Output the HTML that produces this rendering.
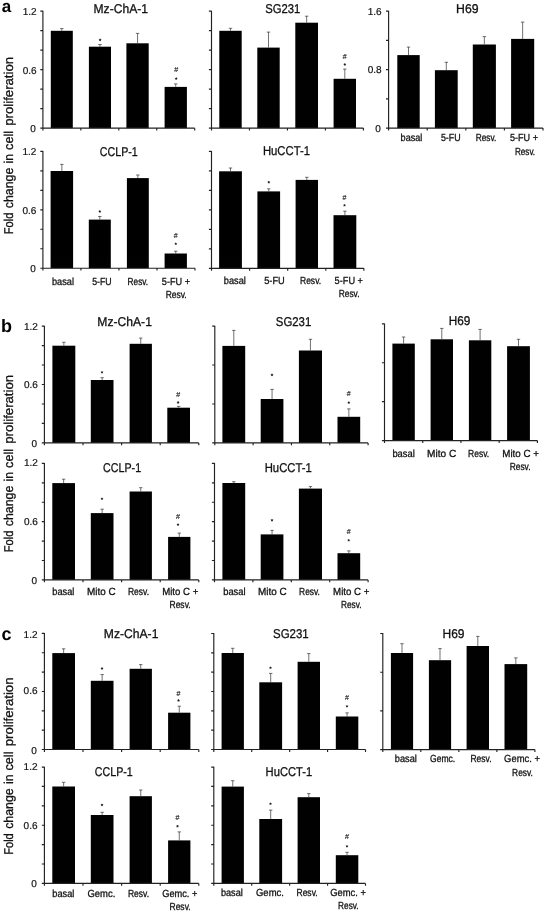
<!DOCTYPE html>
<html><head><meta charset="utf-8"><title>Fold change in cell proliferation</title>
<style>
html,body{margin:0;padding:0;background:#fff;}
body{width:546px;height:913px;overflow:hidden;font-family:"Liberation Sans",sans-serif;}
svg{display:block;font-family:"Liberation Sans",sans-serif;will-change:transform;opacity:0.999;text-rendering:geometricPrecision;}
</style></head><body>
<svg width="546" height="913" viewBox="0 0 546 913">
<rect width="546" height="913" fill="#fff"/>
<rect x="50.80" y="30.80" width="22.00" height="97.35" fill="#000"/>
<path d="M61.80 30.80V28.60M60.10 28.60H63.50" stroke="#333" stroke-width="0.7" fill="none"/>
<rect x="88.90" y="46.70" width="22.10" height="81.45" fill="#000"/>
<path d="M99.95 46.70V44.50M98.25 44.50H101.65" stroke="#333" stroke-width="0.7" fill="none"/>
<rect x="126.40" y="43.30" width="22.30" height="84.85" fill="#000"/>
<path d="M137.55 43.30V33.40M135.85 33.40H139.25" stroke="#333" stroke-width="0.7" fill="none"/>
<rect x="164.60" y="86.90" width="22.30" height="41.25" fill="#000"/>
<path d="M175.75 86.90V83.90M174.05 83.90H177.45" stroke="#333" stroke-width="0.7" fill="none"/>
<path d="M42.90 10.70V128.15M40.30 128.15H194.70M40.30 11.10H42.90M40.30 30.61H42.90M40.30 50.12H42.90M40.30 69.62H42.90M40.30 89.13H42.90M40.30 108.64H42.90M40.30 128.15H42.90M42.90 128.15V130.55M80.85 128.15V130.55M118.80 128.15V130.55M156.75 128.15V130.55M194.70 128.15V130.55" stroke="#222" stroke-width="1.15" fill="none"/>
<text transform="translate(93.50,13.20) scale(0.9462,1)" font-size="12.8" fill="#111" stroke="#111" stroke-width="0.3">Mz-ChA-1</text>
<polygon points="100.10,38.35 100.57,39.25 101.57,39.42 100.86,40.15 101.01,41.15 100.10,40.70 99.19,41.15 99.34,40.15 98.63,39.42 99.63,39.25" fill="#1a1a1a"/>
<text transform="translate(176.20,72.19) scale(0.9739,1)" font-size="7.2" text-anchor="middle" fill="#222" stroke="#222" stroke-width="0.15">#</text>
<polygon points="176.20,77.05 176.67,77.95 177.67,78.12 176.96,78.85 177.11,79.85 176.20,79.40 175.29,79.85 175.44,78.85 174.73,78.12 175.73,77.95" fill="#1a1a1a"/>
<text transform="translate(36.60,14.80) scale(1.0000,1)" font-size="10.0" text-anchor="end" fill="#111" stroke="#111" stroke-width="0.2">1.2</text>
<text transform="translate(36.60,73.90) scale(1.0000,1)" font-size="10.0" text-anchor="end" fill="#111" stroke="#111" stroke-width="0.2">0.6</text>
<text transform="translate(35.90,131.90) scale(1.0000,1)" font-size="10.0" text-anchor="end" fill="#111" stroke="#111" stroke-width="0.2">0</text>
<rect x="219.30" y="30.80" width="22.40" height="97.30" fill="#000"/>
<path d="M230.50 30.80V28.30M228.80 28.30H232.20" stroke="#333" stroke-width="0.7" fill="none"/>
<rect x="257.30" y="47.60" width="22.40" height="80.50" fill="#000"/>
<path d="M268.50 47.60V32.10M266.80 32.10H270.20" stroke="#333" stroke-width="0.7" fill="none"/>
<rect x="295.30" y="22.70" width="22.70" height="105.40" fill="#000"/>
<path d="M306.65 22.70V16.20M304.95 16.20H308.35" stroke="#333" stroke-width="0.7" fill="none"/>
<rect x="333.60" y="78.80" width="22.40" height="49.30" fill="#000"/>
<path d="M344.80 78.80V69.10M343.10 69.10H346.50" stroke="#333" stroke-width="0.7" fill="none"/>
<path d="M211.50 10.70V128.10M208.90 128.10H363.40M208.90 11.10H211.50M208.90 30.60H211.50M208.90 50.10H211.50M208.90 69.60H211.50M208.90 89.10H211.50M208.90 108.60H211.50M208.90 128.10H211.50M211.50 128.10V130.50M249.47 128.10V130.50M287.45 128.10V130.50M325.42 128.10V130.50M363.40 128.10V130.50" stroke="#222" stroke-width="1.15" fill="none"/>
<text transform="translate(265.30,13.20) scale(0.8803,1)" font-size="12.8" fill="#111" stroke="#111" stroke-width="0.3">SG231</text>
<text transform="translate(344.80,58.59) scale(0.9739,1)" font-size="7.2" text-anchor="middle" fill="#222" stroke="#222" stroke-width="0.15">#</text>
<polygon points="344.80,62.95 345.27,63.85 346.27,64.02 345.56,64.75 345.71,65.75 344.80,65.30 343.89,65.75 344.04,64.75 343.33,64.02 344.33,63.85" fill="#1a1a1a"/>
<rect x="397.30" y="55.10" width="22.40" height="73.00" fill="#000"/>
<path d="M408.50 55.10V47.10M406.80 47.10H410.20" stroke="#333" stroke-width="0.7" fill="none"/>
<rect x="434.90" y="70.20" width="22.80" height="57.90" fill="#000"/>
<path d="M446.30 70.20V62.30M444.60 62.30H448.00" stroke="#333" stroke-width="0.7" fill="none"/>
<rect x="472.80" y="44.50" width="23.10" height="83.60" fill="#000"/>
<path d="M484.35 44.50V36.60M482.65 36.60H486.05" stroke="#333" stroke-width="0.7" fill="none"/>
<rect x="511.10" y="38.90" width="23.10" height="89.20" fill="#000"/>
<path d="M522.65 38.90V22.10M520.95 22.10H524.35" stroke="#333" stroke-width="0.7" fill="none"/>
<path d="M388.60 10.70V128.10M386.00 128.10H543.00M386.00 11.10H388.60M386.00 40.35H388.60M386.00 69.60H388.60M386.00 98.85H388.60M386.00 128.10H388.60M388.60 128.10V130.50M427.20 128.10V130.50M465.80 128.10V130.50M504.40 128.10V130.50M543.00 128.10V130.50" stroke="#222" stroke-width="1.15" fill="none"/>
<text transform="translate(456.10,13.40) scale(0.9579,1)" font-size="12.8" fill="#111" stroke="#111" stroke-width="0.3">H69</text>
<text transform="translate(381.60,14.60) scale(1.0000,1)" font-size="10.0" text-anchor="end" fill="#111" stroke="#111" stroke-width="0.2">1.6</text>
<text transform="translate(381.60,73.10) scale(1.0000,1)" font-size="10.0" text-anchor="end" fill="#111" stroke="#111" stroke-width="0.2">0.8</text>
<text transform="translate(380.90,131.60) scale(1.0000,1)" font-size="10.0" text-anchor="end" fill="#111" stroke="#111" stroke-width="0.2">0</text>
<text transform="translate(400.60,141.40) scale(0.8815,1)" font-size="10.3" fill="#111" stroke="#111" stroke-width="0.3">basal</text>
<text transform="translate(440.90,141.40) scale(0.8615,1)" font-size="10.3" fill="#111" stroke="#111" stroke-width="0.3">5-FU</text>
<text transform="translate(475.70,141.40) scale(0.8065,1)" font-size="10.3" fill="#111" stroke="#111" stroke-width="0.3">Resv.</text>
<text transform="translate(510.00,141.40) scale(0.8812,1)" font-size="10.3" fill="#111" stroke="#111" stroke-width="0.3">5-FU +</text>
<text transform="translate(514.90,154.60) scale(0.7908,1)" font-size="10.3" fill="#111" stroke="#111" stroke-width="0.3">Resv.</text>
<rect x="50.60" y="171.00" width="22.50" height="97.20" fill="#000"/>
<path d="M61.85 171.00V164.40M60.15 164.40H63.55" stroke="#333" stroke-width="0.7" fill="none"/>
<rect x="88.80" y="219.60" width="22.00" height="48.60" fill="#000"/>
<path d="M99.80 219.60V216.50M98.10 216.50H101.50" stroke="#333" stroke-width="0.7" fill="none"/>
<rect x="126.90" y="178.10" width="21.90" height="90.10" fill="#000"/>
<path d="M137.85 178.10V175.00M136.15 175.00H139.55" stroke="#333" stroke-width="0.7" fill="none"/>
<rect x="164.60" y="253.50" width="22.30" height="14.70" fill="#000"/>
<path d="M175.75 253.50V251.20M174.05 251.20H177.45" stroke="#333" stroke-width="0.7" fill="none"/>
<path d="M42.90 151.00V268.20M40.30 268.20H195.00M40.30 151.40H42.90M40.30 170.87H42.90M40.30 190.33H42.90M40.30 209.80H42.90M40.30 229.27H42.90M40.30 248.73H42.90M40.30 268.20H42.90M42.90 268.20V270.60M80.92 268.20V270.60M118.95 268.20V270.60M156.97 268.20V270.60M195.00 268.20V270.60" stroke="#222" stroke-width="1.15" fill="none"/>
<text transform="translate(99.70,155.90) scale(0.8373,1)" font-size="12.8" fill="#111" stroke="#111" stroke-width="0.3">CCLP-1</text>
<polygon points="99.80,209.95 100.27,210.85 101.27,211.02 100.56,211.75 100.71,212.75 99.80,212.30 98.89,212.75 99.04,211.75 98.33,211.02 99.33,210.85" fill="#1a1a1a"/>
<text transform="translate(175.80,237.59) scale(0.9739,1)" font-size="7.2" text-anchor="middle" fill="#222" stroke="#222" stroke-width="0.15">#</text>
<polygon points="175.80,242.25 176.27,243.15 177.27,243.32 176.56,244.05 176.71,245.05 175.80,244.60 174.89,245.05 175.04,244.05 174.33,243.32 175.33,243.15" fill="#1a1a1a"/>
<text transform="translate(36.40,154.80) scale(1.0000,1)" font-size="10.0" text-anchor="end" fill="#111" stroke="#111" stroke-width="0.2">1.2</text>
<text transform="translate(36.40,214.20) scale(1.0000,1)" font-size="10.0" text-anchor="end" fill="#111" stroke="#111" stroke-width="0.2">0.6</text>
<text transform="translate(35.70,271.90) scale(1.0000,1)" font-size="10.0" text-anchor="end" fill="#111" stroke="#111" stroke-width="0.2">0</text>
<text transform="translate(52.00,284.50) scale(0.8937,1)" font-size="10.3" fill="#111" stroke="#111" stroke-width="0.3">basal</text>
<text transform="translate(92.20,284.50) scale(0.8528,1)" font-size="10.3" fill="#111" stroke="#111" stroke-width="0.3">5-FU</text>
<text transform="translate(127.60,284.50) scale(0.8025,1)" font-size="10.3" fill="#111" stroke="#111" stroke-width="0.3">Resv.</text>
<text transform="translate(161.80,284.70) scale(0.8875,1)" font-size="10.3" fill="#111" stroke="#111" stroke-width="0.3">5-FU +</text>
<text transform="translate(165.70,298.20) scale(0.8221,1)" font-size="10.3" fill="#111" stroke="#111" stroke-width="0.3">Resv.</text>
<rect x="219.10" y="171.30" width="22.80" height="97.00" fill="#000"/>
<path d="M230.50 171.30V168.00M228.80 168.00H232.20" stroke="#333" stroke-width="0.7" fill="none"/>
<rect x="257.40" y="191.40" width="22.70" height="76.90" fill="#000"/>
<path d="M268.75 191.40V188.80M267.05 188.80H270.45" stroke="#333" stroke-width="0.7" fill="none"/>
<rect x="295.60" y="179.90" width="22.40" height="88.40" fill="#000"/>
<path d="M306.80 179.90V177.30M305.10 177.30H308.50" stroke="#333" stroke-width="0.7" fill="none"/>
<rect x="333.50" y="215.20" width="22.80" height="53.10" fill="#000"/>
<path d="M344.90 215.20V211.20M343.20 211.20H346.60" stroke="#333" stroke-width="0.7" fill="none"/>
<path d="M211.50 151.00V268.30M208.90 268.30H363.90M208.90 151.40H211.50M208.90 170.88H211.50M208.90 190.37H211.50M208.90 209.85H211.50M208.90 229.33H211.50M208.90 248.82H211.50M208.90 268.30H211.50M211.50 268.30V270.70M249.60 268.30V270.70M287.70 268.30V270.70M325.80 268.30V270.70M363.90 268.30V270.70" stroke="#222" stroke-width="1.15" fill="none"/>
<text transform="translate(262.90,155.20) scale(0.8824,1)" font-size="12.8" fill="#111" stroke="#111" stroke-width="0.3">HuCCT-1</text>
<polygon points="268.80,180.65 269.27,181.55 270.27,181.72 269.56,182.45 269.71,183.45 268.80,183.00 267.89,183.45 268.04,182.45 267.33,181.72 268.33,181.55" fill="#1a1a1a"/>
<text transform="translate(344.50,199.59) scale(0.9739,1)" font-size="7.2" text-anchor="middle" fill="#222" stroke="#222" stroke-width="0.15">#</text>
<polygon points="344.50,203.75 344.97,204.65 345.97,204.82 345.26,205.55 345.41,206.55 344.50,206.10 343.59,206.55 343.74,205.55 343.03,204.82 344.03,204.65" fill="#1a1a1a"/>
<text transform="translate(223.80,283.80) scale(0.8937,1)" font-size="10.3" fill="#111" stroke="#111" stroke-width="0.3">basal</text>
<text transform="translate(264.20,283.80) scale(0.8965,1)" font-size="10.3" fill="#111" stroke="#111" stroke-width="0.3">5-FU</text>
<text transform="translate(300.00,283.80) scale(0.8260,1)" font-size="10.3" fill="#111" stroke="#111" stroke-width="0.3">Resv.</text>
<text transform="translate(334.60,283.80) scale(0.8938,1)" font-size="10.3" fill="#111" stroke="#111" stroke-width="0.3">5-FU +</text>
<text transform="translate(338.70,297.00) scale(0.8143,1)" font-size="10.3" fill="#111" stroke="#111" stroke-width="0.3">Resv.</text>
<rect x="52.40" y="345.70" width="22.90" height="97.20" fill="#000"/>
<path d="M63.85 345.70V342.30M62.15 342.30H65.55" stroke="#333" stroke-width="0.7" fill="none"/>
<rect x="90.80" y="380.00" width="22.70" height="62.90" fill="#000"/>
<path d="M102.15 380.00V377.70M100.45 377.70H103.85" stroke="#333" stroke-width="0.7" fill="none"/>
<rect x="129.60" y="343.80" width="22.30" height="99.10" fill="#000"/>
<path d="M140.75 343.80V338.10M139.05 338.10H142.45" stroke="#333" stroke-width="0.7" fill="none"/>
<rect x="167.30" y="407.70" width="22.70" height="35.20" fill="#000"/>
<path d="M178.65 407.70V406.40M176.95 406.40H180.35" stroke="#333" stroke-width="0.7" fill="none"/>
<path d="M44.40 325.70V442.90M41.80 442.90H198.80M41.80 326.10H44.40M41.80 345.57H44.40M41.80 365.03H44.40M41.80 384.50H44.40M41.80 403.97H44.40M41.80 423.43H44.40M41.80 442.90H44.40M44.40 442.90V445.30M83.00 442.90V445.30M121.60 442.90V445.30M160.20 442.90V445.30M198.80 442.90V445.30" stroke="#222" stroke-width="1.15" fill="none"/>
<text transform="translate(97.30,325.60) scale(0.9479,1)" font-size="12.8" fill="#111" stroke="#111" stroke-width="0.3">Mz-ChA-1</text>
<polygon points="102.00,370.75 102.47,371.65 103.47,371.82 102.76,372.55 102.91,373.55 102.00,373.10 101.09,373.55 101.24,372.55 100.53,371.82 101.53,371.65" fill="#1a1a1a"/>
<text transform="translate(178.10,397.29) scale(0.9739,1)" font-size="7.2" text-anchor="middle" fill="#222" stroke="#222" stroke-width="0.15">#</text>
<polygon points="178.10,400.85 178.57,401.75 179.57,401.92 178.86,402.65 179.01,403.65 178.10,403.20 177.19,403.65 177.34,402.65 176.63,401.92 177.63,401.75" fill="#1a1a1a"/>
<text transform="translate(37.80,330.10) scale(1.0000,1)" font-size="10.0" text-anchor="end" fill="#111" stroke="#111" stroke-width="0.2">1.2</text>
<text transform="translate(37.80,387.50) scale(1.0000,1)" font-size="10.0" text-anchor="end" fill="#111" stroke="#111" stroke-width="0.2">0.6</text>
<text transform="translate(37.10,446.90) scale(1.0000,1)" font-size="10.0" text-anchor="end" fill="#111" stroke="#111" stroke-width="0.2">0</text>
<rect x="222.40" y="345.90" width="22.80" height="97.00" fill="#000"/>
<path d="M233.80 345.90V330.40M232.10 330.40H235.50" stroke="#333" stroke-width="0.7" fill="none"/>
<rect x="260.70" y="399.00" width="22.70" height="43.90" fill="#000"/>
<path d="M272.05 399.00V389.40M270.35 389.40H273.75" stroke="#333" stroke-width="0.7" fill="none"/>
<rect x="298.90" y="350.50" width="23.10" height="92.40" fill="#000"/>
<path d="M310.45 350.50V339.30M308.75 339.30H312.15" stroke="#333" stroke-width="0.7" fill="none"/>
<rect x="337.50" y="416.80" width="22.70" height="26.10" fill="#000"/>
<path d="M348.85 416.80V408.90M347.15 408.90H350.55" stroke="#333" stroke-width="0.7" fill="none"/>
<path d="M214.80 325.70V442.90M212.20 442.90H368.10M212.20 326.10H214.80M212.20 365.03H214.80M212.20 403.97H214.80M212.20 442.90H214.80M214.80 442.90V445.30M253.12 442.90V445.30M291.45 442.90V445.30M329.78 442.90V445.30M368.10 442.90V445.30" stroke="#222" stroke-width="1.15" fill="none"/>
<text transform="translate(275.80,325.60) scale(0.8903,1)" font-size="12.8" fill="#111" stroke="#111" stroke-width="0.3">SG231</text>
<polygon points="272.00,373.35 272.47,374.25 273.47,374.42 272.76,375.15 272.91,376.15 272.00,375.70 271.09,376.15 271.24,375.15 270.53,374.42 271.53,374.25" fill="#1a1a1a"/>
<text transform="translate(348.80,396.29) scale(0.9739,1)" font-size="7.2" text-anchor="middle" fill="#222" stroke="#222" stroke-width="0.15">#</text>
<polygon points="348.80,401.05 349.27,401.95 350.27,402.12 349.56,402.85 349.71,403.85 348.80,403.40 347.89,403.85 348.04,402.85 347.33,402.12 348.33,401.95" fill="#1a1a1a"/>
<rect x="392.40" y="343.60" width="22.40" height="97.00" fill="#000"/>
<path d="M403.60 343.60V337.00M401.90 337.00H405.30" stroke="#333" stroke-width="0.7" fill="none"/>
<rect x="430.60" y="339.30" width="22.40" height="101.30" fill="#000"/>
<path d="M441.80 339.30V328.40M440.10 328.40H443.50" stroke="#333" stroke-width="0.7" fill="none"/>
<rect x="468.90" y="340.30" width="22.40" height="100.30" fill="#000"/>
<path d="M480.10 340.30V329.40M478.40 329.40H481.80" stroke="#333" stroke-width="0.7" fill="none"/>
<rect x="507.10" y="346.20" width="22.80" height="94.40" fill="#000"/>
<path d="M518.50 346.20V339.30M516.80 339.30H520.20" stroke="#333" stroke-width="0.7" fill="none"/>
<path d="M384.50 323.40V440.60M381.90 440.60H537.40M381.90 323.80H384.50M381.90 362.73H384.50M381.90 401.67H384.50M381.90 440.60H384.50M384.50 440.60V443.00M422.73 440.60V443.00M460.95 440.60V443.00M499.17 440.60V443.00M537.40 440.60V443.00" stroke="#222" stroke-width="1.15" fill="none"/>
<text transform="translate(448.80,325.00) scale(0.9196,1)" font-size="12.8" fill="#111" stroke="#111" stroke-width="0.3">H69</text>
<text transform="translate(392.40,456.70) scale(0.9059,1)" font-size="10.3" fill="#111" stroke="#111" stroke-width="0.3">basal</text>
<text transform="translate(427.00,456.70) scale(0.9843,1)" font-size="10.3" fill="#111" stroke="#111" stroke-width="0.3">Mito C</text>
<text transform="translate(468.10,456.70) scale(0.8260,1)" font-size="10.3" fill="#111" stroke="#111" stroke-width="0.3">Resv.</text>
<text transform="translate(502.30,456.70) scale(0.9502,1)" font-size="10.3" fill="#111" stroke="#111" stroke-width="0.3">Mito C +</text>
<text transform="translate(509.70,469.80) scale(0.8143,1)" font-size="10.3" fill="#111" stroke="#111" stroke-width="0.3">Resv.</text>
<rect x="52.30" y="483.10" width="22.70" height="96.80" fill="#000"/>
<path d="M63.65 483.10V479.20M61.95 479.20H65.35" stroke="#333" stroke-width="0.7" fill="none"/>
<rect x="90.80" y="513.10" width="22.70" height="66.80" fill="#000"/>
<path d="M102.15 513.10V509.20M100.45 509.20H103.85" stroke="#333" stroke-width="0.7" fill="none"/>
<rect x="129.60" y="491.50" width="22.30" height="88.40" fill="#000"/>
<path d="M140.75 491.50V487.70M139.05 487.70H142.45" stroke="#333" stroke-width="0.7" fill="none"/>
<rect x="168.10" y="536.90" width="22.30" height="43.00" fill="#000"/>
<path d="M179.25 536.90V533.10M177.55 533.10H180.95" stroke="#333" stroke-width="0.7" fill="none"/>
<path d="M44.40 463.00V579.90M41.80 579.90H198.80M41.80 463.40H44.40M41.80 482.82H44.40M41.80 502.23H44.40M41.80 521.65H44.40M41.80 541.07H44.40M41.80 560.48H44.40M41.80 579.90H44.40M44.40 579.90V582.30M83.00 579.90V582.30M121.60 579.90V582.30M160.20 579.90V582.30M198.80 579.90V582.30" stroke="#222" stroke-width="1.15" fill="none"/>
<text transform="translate(103.00,471.80) scale(0.8373,1)" font-size="12.8" fill="#111" stroke="#111" stroke-width="0.3">CCLP-1</text>
<polygon points="102.00,497.25 102.47,498.15 103.47,498.32 102.76,499.05 102.91,500.05 102.00,499.60 101.09,500.05 101.24,499.05 100.53,498.32 101.53,498.15" fill="#1a1a1a"/>
<text transform="translate(178.00,518.79) scale(0.9739,1)" font-size="7.2" text-anchor="middle" fill="#222" stroke="#222" stroke-width="0.15">#</text>
<polygon points="178.00,523.05 178.47,523.95 179.47,524.12 178.76,524.85 178.91,525.85 178.00,525.40 177.09,525.85 177.24,524.85 176.53,524.12 177.53,523.95" fill="#1a1a1a"/>
<text transform="translate(37.80,466.30) scale(1.0000,1)" font-size="10.0" text-anchor="end" fill="#111" stroke="#111" stroke-width="0.2">1.2</text>
<text transform="translate(37.80,524.80) scale(1.0000,1)" font-size="10.0" text-anchor="end" fill="#111" stroke="#111" stroke-width="0.2">0.6</text>
<text transform="translate(37.10,583.60) scale(1.0000,1)" font-size="10.0" text-anchor="end" fill="#111" stroke="#111" stroke-width="0.2">0</text>
<text transform="translate(52.30,595.20) scale(0.8937,1)" font-size="10.3" fill="#111" stroke="#111" stroke-width="0.3">basal</text>
<text transform="translate(86.90,595.20) scale(0.9642,1)" font-size="10.3" fill="#111" stroke="#111" stroke-width="0.3">Mito C</text>
<text transform="translate(127.90,595.20) scale(0.8260,1)" font-size="10.3" fill="#111" stroke="#111" stroke-width="0.3">Resv.</text>
<text transform="translate(162.20,595.20) scale(0.9346,1)" font-size="10.3" fill="#111" stroke="#111" stroke-width="0.3">Mito C +</text>
<text transform="translate(169.50,607.80) scale(0.8260,1)" font-size="10.3" fill="#111" stroke="#111" stroke-width="0.3">Resv.</text>
<rect x="222.40" y="483.00" width="22.80" height="96.90" fill="#000"/>
<path d="M233.80 483.00V481.70M232.10 481.70H235.50" stroke="#333" stroke-width="0.7" fill="none"/>
<rect x="260.70" y="534.40" width="22.70" height="45.50" fill="#000"/>
<path d="M272.05 534.40V530.40M270.35 530.40H273.75" stroke="#333" stroke-width="0.7" fill="none"/>
<rect x="298.90" y="488.60" width="23.10" height="91.30" fill="#000"/>
<path d="M310.45 488.60V486.60M308.75 486.60H312.15" stroke="#333" stroke-width="0.7" fill="none"/>
<rect x="337.50" y="553.20" width="22.70" height="26.70" fill="#000"/>
<path d="M348.85 553.20V550.90M347.15 550.90H350.55" stroke="#333" stroke-width="0.7" fill="none"/>
<path d="M214.50 463.00V579.90M211.90 579.90H368.10M211.90 463.40H214.50M211.90 482.82H214.50M211.90 502.23H214.50M211.90 521.65H214.50M211.90 541.07H214.50M211.90 560.48H214.50M211.90 579.90H214.50M214.50 579.90V582.30M252.90 579.90V582.30M291.30 579.90V582.30M329.70 579.90V582.30M368.10 579.90V582.30" stroke="#222" stroke-width="1.15" fill="none"/>
<text transform="translate(264.70,471.80) scale(0.8824,1)" font-size="12.8" fill="#111" stroke="#111" stroke-width="0.3">HuCCT-1</text>
<polygon points="272.00,518.65 272.47,519.55 273.47,519.72 272.76,520.45 272.91,521.45 272.00,521.00 271.09,521.45 271.24,520.45 270.53,519.72 271.53,519.55" fill="#1a1a1a"/>
<text transform="translate(348.70,533.99) scale(0.9739,1)" font-size="7.2" text-anchor="middle" fill="#222" stroke="#222" stroke-width="0.15">#</text>
<polygon points="348.70,538.75 349.17,539.65 350.17,539.82 349.46,540.55 349.61,541.55 348.70,541.10 347.79,541.55 347.94,540.55 347.23,539.82 348.23,539.65" fill="#1a1a1a"/>
<text transform="translate(223.20,595.20) scale(0.9059,1)" font-size="10.3" fill="#111" stroke="#111" stroke-width="0.3">basal</text>
<text transform="translate(258.10,595.20) scale(0.9642,1)" font-size="10.3" fill="#111" stroke="#111" stroke-width="0.3">Mito C</text>
<text transform="translate(299.10,595.20) scale(0.8143,1)" font-size="10.3" fill="#111" stroke="#111" stroke-width="0.3">Resv.</text>
<text transform="translate(333.10,595.20) scale(0.9398,1)" font-size="10.3" fill="#111" stroke="#111" stroke-width="0.3">Mito C +</text>
<text transform="translate(341.00,607.80) scale(0.8025,1)" font-size="10.3" fill="#111" stroke="#111" stroke-width="0.3">Resv.</text>
<rect x="52.30" y="653.10" width="22.70" height="96.40" fill="#000"/>
<path d="M63.65 653.10V648.80M61.95 648.80H65.35" stroke="#333" stroke-width="0.7" fill="none"/>
<rect x="90.80" y="680.80" width="22.70" height="68.70" fill="#000"/>
<path d="M102.15 680.80V674.60M100.45 674.60H103.85" stroke="#333" stroke-width="0.7" fill="none"/>
<rect x="129.60" y="668.80" width="22.30" height="80.70" fill="#000"/>
<path d="M140.75 668.80V664.60M139.05 664.60H142.45" stroke="#333" stroke-width="0.7" fill="none"/>
<rect x="168.10" y="712.70" width="22.30" height="36.80" fill="#000"/>
<path d="M179.25 712.70V706.20M177.55 706.20H180.95" stroke="#333" stroke-width="0.7" fill="none"/>
<path d="M44.40 633.00V749.50M41.80 749.50H198.80M41.80 633.40H44.40M41.80 652.75H44.40M41.80 672.10H44.40M41.80 691.45H44.40M41.80 710.80H44.40M41.80 730.15H44.40M41.80 749.50H44.40M44.40 749.50V751.90M83.00 749.50V751.90M121.60 749.50V751.90M160.20 749.50V751.90M198.80 749.50V751.90" stroke="#222" stroke-width="1.15" fill="none"/>
<text transform="translate(103.80,637.80) scale(0.9479,1)" font-size="12.8" fill="#111" stroke="#111" stroke-width="0.3">Mz-ChA-1</text>
<polygon points="102.00,666.95 102.47,667.85 103.47,668.02 102.76,668.75 102.91,669.75 102.00,669.30 101.09,669.75 101.24,668.75 100.53,668.02 101.53,667.85" fill="#1a1a1a"/>
<text transform="translate(178.50,695.69) scale(0.9739,1)" font-size="7.2" text-anchor="middle" fill="#222" stroke="#222" stroke-width="0.15">#</text>
<polygon points="178.50,698.85 178.97,699.75 179.97,699.92 179.26,700.65 179.41,701.65 178.50,701.20 177.59,701.65 177.74,700.65 177.03,699.92 178.03,699.75" fill="#1a1a1a"/>
<text transform="translate(37.50,637.70) scale(1.0000,1)" font-size="10.0" text-anchor="end" fill="#111" stroke="#111" stroke-width="0.2">1.2</text>
<text transform="translate(37.50,694.10) scale(1.0000,1)" font-size="10.0" text-anchor="end" fill="#111" stroke="#111" stroke-width="0.2">0.6</text>
<text transform="translate(36.80,753.60) scale(1.0000,1)" font-size="10.0" text-anchor="end" fill="#111" stroke="#111" stroke-width="0.2">0</text>
<rect x="221.60" y="653.00" width="22.30" height="96.50" fill="#000"/>
<path d="M232.75 653.00V648.30M231.05 648.30H234.45" stroke="#333" stroke-width="0.7" fill="none"/>
<rect x="259.30" y="682.30" width="22.80" height="67.20" fill="#000"/>
<path d="M270.70 682.30V673.40M269.00 673.40H272.40" stroke="#333" stroke-width="0.7" fill="none"/>
<rect x="297.60" y="661.80" width="22.40" height="87.70" fill="#000"/>
<path d="M308.80 661.80V653.60M307.10 653.60H310.50" stroke="#333" stroke-width="0.7" fill="none"/>
<rect x="335.80" y="716.50" width="22.50" height="33.00" fill="#000"/>
<path d="M347.05 716.50V712.90M345.35 712.90H348.75" stroke="#333" stroke-width="0.7" fill="none"/>
<path d="M213.80 633.10V749.50M211.20 749.50H365.50M211.20 633.50H213.80M211.20 652.83H213.80M211.20 672.17H213.80M211.20 691.50H213.80M211.20 710.83H213.80M211.20 730.17H213.80M211.20 749.50H213.80M213.80 749.50V751.90M251.73 749.50V751.90M289.65 749.50V751.90M327.57 749.50V751.90M365.50 749.50V751.90" stroke="#222" stroke-width="1.15" fill="none"/>
<text transform="translate(273.00,637.80) scale(0.8954,1)" font-size="12.8" fill="#111" stroke="#111" stroke-width="0.3">SG231</text>
<polygon points="270.50,666.25 270.97,667.15 271.97,667.32 271.26,668.05 271.41,669.05 270.50,668.60 269.59,669.05 269.74,668.05 269.03,667.32 270.03,667.15" fill="#1a1a1a"/>
<text transform="translate(347.00,699.99) scale(0.9739,1)" font-size="7.2" text-anchor="middle" fill="#222" stroke="#222" stroke-width="0.15">#</text>
<polygon points="347.00,704.75 347.47,705.65 348.47,705.82 347.76,706.55 347.91,707.55 347.00,707.10 346.09,707.55 346.24,706.55 345.53,705.82 346.53,705.65" fill="#1a1a1a"/>
<rect x="390.90" y="653.00" width="22.20" height="96.60" fill="#000"/>
<path d="M402.00 653.00V643.70M400.30 643.70H403.70" stroke="#333" stroke-width="0.7" fill="none"/>
<rect x="428.90" y="660.20" width="22.20" height="89.40" fill="#000"/>
<path d="M440.00 660.20V648.60M438.30 648.60H441.70" stroke="#333" stroke-width="0.7" fill="none"/>
<rect x="466.60" y="646.00" width="22.40" height="103.60" fill="#000"/>
<path d="M477.80 646.00V636.40M476.10 636.40H479.50" stroke="#333" stroke-width="0.7" fill="none"/>
<rect x="504.50" y="664.10" width="22.70" height="85.50" fill="#000"/>
<path d="M515.85 664.10V657.90M514.15 657.90H517.55" stroke="#333" stroke-width="0.7" fill="none"/>
<path d="M382.80 633.10V749.60M380.20 749.60H534.90M380.20 633.50H382.80M380.20 672.20H382.80M380.20 710.90H382.80M380.20 749.60H382.80M382.80 749.60V752.00M420.82 749.60V752.00M458.85 749.60V752.00M496.88 749.60V752.00M534.90 749.60V752.00" stroke="#222" stroke-width="1.15" fill="none"/>
<text transform="translate(442.50,637.80) scale(0.9366,1)" font-size="12.8" fill="#111" stroke="#111" stroke-width="0.3">H69</text>
<text transform="translate(394.80,762.30) scale(0.8937,1)" font-size="10.3" fill="#111" stroke="#111" stroke-width="0.3">basal</text>
<text transform="translate(430.00,762.30) scale(0.8308,1)" font-size="10.3" fill="#111" stroke="#111" stroke-width="0.3">Gemc.</text>
<text transform="translate(470.40,762.30) scale(0.8260,1)" font-size="10.3" fill="#111" stroke="#111" stroke-width="0.3">Resv.</text>
<text transform="translate(504.10,762.30) scale(0.9135,1)" font-size="10.3" fill="#111" stroke="#111" stroke-width="0.3">Gemc. +</text>
<text transform="translate(512.10,775.50) scale(0.8143,1)" font-size="10.3" fill="#111" stroke="#111" stroke-width="0.3">Resv.</text>
<rect x="52.30" y="786.50" width="22.70" height="96.90" fill="#000"/>
<path d="M63.65 786.50V782.30M61.95 782.30H65.35" stroke="#333" stroke-width="0.7" fill="none"/>
<rect x="90.80" y="815.00" width="22.70" height="68.40" fill="#000"/>
<path d="M102.15 815.00V812.30M100.45 812.30H103.85" stroke="#333" stroke-width="0.7" fill="none"/>
<rect x="129.60" y="796.20" width="22.30" height="87.20" fill="#000"/>
<path d="M140.75 796.20V790.00M139.05 790.00H142.45" stroke="#333" stroke-width="0.7" fill="none"/>
<rect x="168.10" y="840.40" width="22.30" height="43.00" fill="#000"/>
<path d="M179.25 840.40V831.90M177.55 831.90H180.95" stroke="#333" stroke-width="0.7" fill="none"/>
<path d="M44.40 766.65V883.40M41.80 883.40H198.80M41.80 767.05H44.40M41.80 786.44H44.40M41.80 805.83H44.40M41.80 825.22H44.40M41.80 844.62H44.40M41.80 864.01H44.40M41.80 883.40H44.40M44.40 883.40V885.80M83.00 883.40V885.80M121.60 883.40V885.80M160.20 883.40V885.80M198.80 883.40V885.80" stroke="#222" stroke-width="1.15" fill="none"/>
<text transform="translate(94.70,775.60) scale(0.8373,1)" font-size="12.8" fill="#111" stroke="#111" stroke-width="0.3">CCLP-1</text>
<polygon points="102.00,803.45 102.47,804.35 103.47,804.52 102.76,805.25 102.91,806.25 102.00,805.80 101.09,806.25 101.24,805.25 100.53,804.52 101.53,804.35" fill="#1a1a1a"/>
<text transform="translate(177.50,820.29) scale(0.9739,1)" font-size="7.2" text-anchor="middle" fill="#222" stroke="#222" stroke-width="0.15">#</text>
<polygon points="177.50,824.65 177.97,825.55 178.97,825.72 178.26,826.45 178.41,827.45 177.50,827.00 176.59,827.45 176.74,826.45 176.03,825.72 177.03,825.55" fill="#1a1a1a"/>
<text transform="translate(37.50,769.80) scale(1.0000,1)" font-size="10.0" text-anchor="end" fill="#111" stroke="#111" stroke-width="0.2">1.2</text>
<text transform="translate(37.50,829.00) scale(1.0000,1)" font-size="10.0" text-anchor="end" fill="#111" stroke="#111" stroke-width="0.2">0.6</text>
<text transform="translate(36.80,886.70) scale(1.0000,1)" font-size="10.0" text-anchor="end" fill="#111" stroke="#111" stroke-width="0.2">0</text>
<text transform="translate(52.30,896.60) scale(0.8937,1)" font-size="10.3" fill="#111" stroke="#111" stroke-width="0.3">basal</text>
<text transform="translate(87.50,896.60) scale(0.9165,1)" font-size="10.3" fill="#111" stroke="#111" stroke-width="0.3">Gemc.</text>
<text transform="translate(127.90,896.60) scale(0.8260,1)" font-size="10.3" fill="#111" stroke="#111" stroke-width="0.3">Resv.</text>
<text transform="translate(162.20,896.60) scale(0.8982,1)" font-size="10.3" fill="#111" stroke="#111" stroke-width="0.3">Gemc. +</text>
<text transform="translate(169.50,909.80) scale(0.8260,1)" font-size="10.3" fill="#111" stroke="#111" stroke-width="0.3">Resv.</text>
<rect x="221.60" y="786.60" width="22.30" height="96.80" fill="#000"/>
<path d="M232.75 786.60V780.70M231.05 780.70H234.45" stroke="#333" stroke-width="0.7" fill="none"/>
<rect x="259.30" y="819.00" width="22.80" height="64.40" fill="#000"/>
<path d="M270.70 819.00V810.10M269.00 810.10H272.40" stroke="#333" stroke-width="0.7" fill="none"/>
<rect x="297.60" y="797.20" width="22.40" height="86.20" fill="#000"/>
<path d="M308.80 797.20V793.60M307.10 793.60H310.50" stroke="#333" stroke-width="0.7" fill="none"/>
<rect x="335.80" y="855.20" width="22.50" height="28.20" fill="#000"/>
<path d="M347.05 855.20V852.30M345.35 852.30H348.75" stroke="#333" stroke-width="0.7" fill="none"/>
<path d="M213.80 766.65V883.40M211.20 883.40H365.50M211.20 767.05H213.80M211.20 786.44H213.80M211.20 805.83H213.80M211.20 825.22H213.80M211.20 844.62H213.80M211.20 864.01H213.80M211.20 883.40H213.80M213.80 883.40V885.80M251.73 883.40V885.80M289.65 883.40V885.80M327.57 883.40V885.80M365.50 883.40V885.80" stroke="#222" stroke-width="1.15" fill="none"/>
<text transform="translate(265.60,775.60) scale(0.8749,1)" font-size="12.8" fill="#111" stroke="#111" stroke-width="0.3">HuCCT-1</text>
<polygon points="270.50,802.25 270.97,803.15 271.97,803.32 271.26,804.05 271.41,805.05 270.50,804.60 269.59,805.05 269.74,804.05 269.03,803.32 270.03,803.15" fill="#1a1a1a"/>
<text transform="translate(347.00,839.39) scale(0.9739,1)" font-size="7.2" text-anchor="middle" fill="#222" stroke="#222" stroke-width="0.15">#</text>
<polygon points="347.00,844.75 347.47,845.65 348.47,845.82 347.76,846.55 347.91,847.55 347.00,847.10 346.09,847.55 346.24,846.55 345.53,845.82 346.53,845.65" fill="#1a1a1a"/>
<text transform="translate(220.90,895.70) scale(0.8896,1)" font-size="10.3" fill="#111" stroke="#111" stroke-width="0.3">basal</text>
<text transform="translate(256.00,895.70) scale(0.9198,1)" font-size="10.3" fill="#111" stroke="#111" stroke-width="0.3">Gemc.</text>
<text transform="translate(296.50,895.70) scale(0.8260,1)" font-size="10.3" fill="#111" stroke="#111" stroke-width="0.3">Resv.</text>
<text transform="translate(330.20,895.70) scale(0.9109,1)" font-size="10.3" fill="#111" stroke="#111" stroke-width="0.3">Gemc. +</text>
<text transform="translate(338.10,909.20) scale(0.8025,1)" font-size="10.3" fill="#111" stroke="#111" stroke-width="0.3">Resv.</text>
<text transform="translate(12.6,234.20) rotate(-90) scale(0.8676,1)" font-size="12.8" fill="#111" stroke="#111" stroke-width="0.3">Fold</text>
<text transform="translate(12.6,208.20) rotate(-90) scale(0.9647,1)" font-size="12.8" fill="#111" stroke="#111" stroke-width="0.3">change</text>
<text transform="translate(12.6,163.40) rotate(-90) scale(0.9515,1)" font-size="12.8" fill="#111" stroke="#111" stroke-width="0.3">in</text>
<text transform="translate(12.6,149.90) rotate(-90) scale(0.9896,1)" font-size="12.8" fill="#111" stroke="#111" stroke-width="0.3">cell</text>
<text transform="translate(12.6,125.70) rotate(-90) scale(1.0287,1)" font-size="12.8" fill="#111" stroke="#111" stroke-width="0.3">proliferation</text>
<text transform="translate(12.8,552.20) rotate(-90) scale(0.8676,1)" font-size="12.8" fill="#111" stroke="#111" stroke-width="0.3">Fold</text>
<text transform="translate(12.8,526.20) rotate(-90) scale(0.9647,1)" font-size="12.8" fill="#111" stroke="#111" stroke-width="0.3">change</text>
<text transform="translate(12.8,481.40) rotate(-90) scale(0.9515,1)" font-size="12.8" fill="#111" stroke="#111" stroke-width="0.3">in</text>
<text transform="translate(12.8,467.90) rotate(-90) scale(0.9896,1)" font-size="12.8" fill="#111" stroke="#111" stroke-width="0.3">cell</text>
<text transform="translate(12.8,443.70) rotate(-90) scale(1.0287,1)" font-size="12.8" fill="#111" stroke="#111" stroke-width="0.3">proliferation</text>
<text transform="translate(13.1,854.80) rotate(-90) scale(0.8676,1)" font-size="12.8" fill="#111" stroke="#111" stroke-width="0.3">Fold</text>
<text transform="translate(13.1,828.80) rotate(-90) scale(0.9647,1)" font-size="12.8" fill="#111" stroke="#111" stroke-width="0.3">change</text>
<text transform="translate(13.1,784.00) rotate(-90) scale(0.9515,1)" font-size="12.8" fill="#111" stroke="#111" stroke-width="0.3">in</text>
<text transform="translate(13.1,770.50) rotate(-90) scale(0.9896,1)" font-size="12.8" fill="#111" stroke="#111" stroke-width="0.3">cell</text>
<text transform="translate(13.1,746.30) rotate(-90) scale(1.0287,1)" font-size="12.8" fill="#111" stroke="#111" stroke-width="0.3">proliferation</text>
<text x="1.8" y="11.8" font-size="17" font-weight="bold" fill="#000">a</text>
<text x="1.1" y="331.6" font-size="18" font-weight="bold" fill="#000">b</text>
<text x="1.4" y="639.5" font-size="18" font-weight="bold" fill="#000">c</text>
</svg>
</body></html>
